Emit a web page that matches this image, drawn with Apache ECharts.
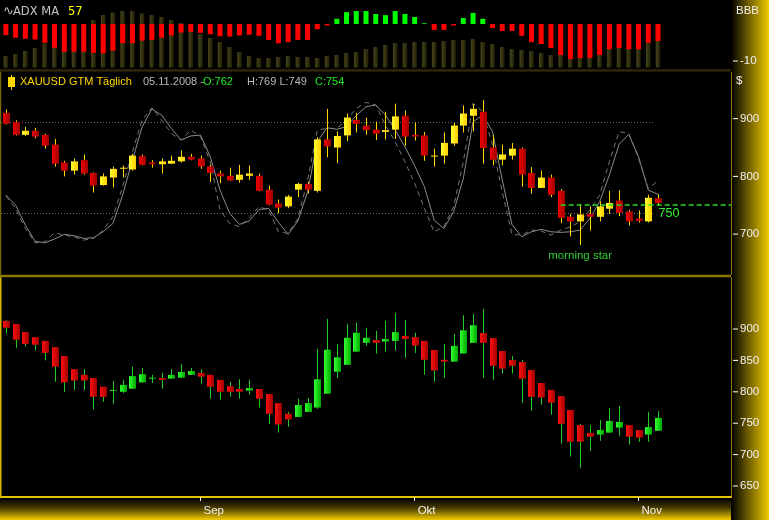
<!DOCTYPE html>
<html>
<head>
<meta charset="utf-8">
<script src="https://cdn.jsdelivr.net/npm/echarts@6/dist/echarts.min.js"></script>
<style>
  html, body { margin: 0; padding: 0; background: #000; }
  #chart { width: 769px; height: 520px; }
</style>
</head>
<body>
<div id="chart"></div>
<script>
// ---- calendar: trading days shown on the chart ----
const firstDay = '2008-08-04';
const lastDay = '2008-11-05';
const spareSlots = 7;               // empty room right of the last candle
const monthNames = ['Jan', 'Feb', 'Mär', 'Apr', 'Mai', 'Jun', 'Jul', 'Aug', 'Sep', 'Okt', 'Nov', 'Dez'];

// ---- XAUUSD GTM, daily (upper price panel) ----
const gtmOpen  = [910,894,872,879,872,855,824,810,828,806,785,798,814,812,835,824,821,822,826,834,831,817,805,801,794,801,801,777,753,748,777,787,775,864,850,871,898,888,881,877,881,905,872,871,835,836,857,888,905,912,850,829,836,848,806,780,798,775,730,722,735,730,744,758,739,727,722,762];
const gtmHigh  = [916,897,886,884,874,865,827,831,838,807,805,817,819,839,838,828,831,836,845,839,836,820,810,815,820,819,805,784,760,768,789,791,868,917,878,909,910,902,895,912,926,914,893,877,848,876,893,923,925,932,872,855,858,850,816,810,803,778,735,751,748,757,775,776,742,741,768,769];
const gtmLow   = [890,871,870,866,848,817,800,803,803,772,784,781,798,810,819,815,805,822,824,828,813,790,788,792,789,794,774,750,736,745,764,770,772,833,823,861,876,872,863,864,865,853,862,827,817,822,853,876,878,822,819,819,829,782,770,780,764,719,696,681,706,722,735,731,715,720,720,749];
const gtmClose = [891,872,879,869,853,822,810,826,805,784,800,813,815,836,820,821,826,827,834,829,817,806,800,793,803,805,775,751,746,765,787,777,864,852,870,902,891,880,874,880,904,869,869,836,836,858,888,909,917,849,829,838,848,803,780,798,768,728,722,734,730,748,754,737,722,723,763,754];

// ---- oscillator drawn over the upper price panel (0..100) ----
const oscMain = [32,25.4,12.2,1.5,0.5,3,6.1,5.2,3.4,3.9,7.8,13.3,32,55,77,88.8,84.8,76,68.3,71,71.6,57.3,35.3,19.9,12.7,14.9,22.5,23.2,14,6.1,14.9,34.2,67.2,76.4,75.4,77.1,84.4,90.3,91.4,84.8,74.9,63.9,51.4,37.5,15.5,10,21,43,80.4,84.8,73.8,42,12.5,4.5,7.8,9.4,7.8,7.4,7.8,8.9,16.6,27.6,45.2,65.5,72.1,57.3,35.3,32.5];
const oscFast = [31.4,23.2,10,0.5,1.2,7.2,5.6,4.5,2.3,3.4,8.9,17.7,37.5,60.6,81.5,89.6,81.5,72.7,68.3,74.9,70.5,54,22.1,13.3,11.1,17.1,24.3,22.1,7.8,6.7,16.6,41.9,74.9,76,76,81.5,89.2,93.2,91.4,78.2,67.2,54,39.7,23.2,7.8,11.1,24.3,54,92.5,87,65,34,6,5.6,8.9,8.3,5.6,8.9,11.1,14.4,22.1,32,54,73.8,72.7,56.2,36.4,41.3];
const oscLevels = [80, 20];

// ---- lower price panel ----
const spotOpen  = [913,908,895,887,881,871,857,836,827,822,808,801.5,800,805,815,821.5,822,821,822.5,827,830,827,819,809,804.5,802,804.5,796.5,782,765,760,768,775,797,832,843,864,878,882.5,880,881,889,887,881,866.5,851,848,861,878,893.5,885.5,865,850.5,847.5,834.5,814,803,793,771,747,734.5,732,735,743,747,739,732,738];
const spotHigh  = [914,908,895,887,881,871,857,836,836,822,808,817,819,840,838,827,830,836,844,838,836,827,819,816,820,819,804.5,796.5,782,768,789,790,868,916,876,908,910,902,897,913,925.5,914,894,881,866.5,876,892,922,924,932,885.5,865,857,850.5,834.5,814,803,793,771,749,747,755,774,777.5,747,739,768,769.5];
const spotLow   = [893,870,872,866,850,816,800,803,803,772,784,781,798,805,815,814,805,821,822.5,827,813,789,787.5,792,789,795.5,775,749,735,744.5,760,768,773,797,822,843,864,873.5,861,864,865.5,854,862,827,816,822.5,848,861,878,822.5,819,829,829,782.5,770,779.5,763.5,717.5,697,679,706,722,735,730,716,720.5,720.5,738];
const spotClose = [902,883,876,875,862,840,815,818,818,792,792,803,811,825,828,822.5,819,827,831.5,833,824,808,800,800,800,806,789,765,748,756,779,782,820,867,855,886,894,886,878,884,895,884,873.5,851,834,848,873,898,906,878,841.5,837,841.5,821,792,791,782.5,749,720.5,720.5,728.5,739,753.5,752,728.5,727,744,758.5];

// ---- ADX panel ----
const adxLine = [11.5,13.5,16.5,19.5,24,29,34,39,43.5,47.5,52.5,55,56.5,56.5,54,52.5,50.5,47.5,44.5,39,33.5,29.5,25.5,20.5,15.5,11.5,9.5,9.5,10.5,11.5,10.5,10.5,9.5,11.5,12.5,14.5,15.5,18.5,20.5,22.5,24.5,24.5,25.5,25.5,25.5,26.5,27.5,27.5,28.5,25.5,23.5,20.5,18.5,17.5,16.5,14.5,12.5,13,13,14,15,16.5,18.5,19.5,20,21,24.5,26.5];
const adxHist = [-3,-3.7,-4,-4.2,-5.1,-6.4,-7.5,-7.5,-7.5,-7.8,-7.9,-7.2,-5.2,-5.2,-4.5,-4.3,-3.7,-3.1,-2.3,-2.1,-2.4,-2.8,-3.3,-3.4,-3.1,-2.9,-3.2,-4.3,-5.2,-4.9,-4.3,-4.3,-1.4,-0.4,1.4,3.2,3.5,3.5,2.7,2.4,3.5,2.7,1.9,0.2,-1.6,-1.6,-0.4,1.6,3,1.4,-1.1,-1.9,-1.9,-3.2,-4.9,-5.4,-6.5,-8.4,-9.5,-9.2,-9.2,-8.4,-6.8,-6.5,-6.8,-6.8,-5.1,-4.6];

// ---- annotations ----
const levelPrice = 750;
const levelFrom = 57;               // candle index where the level line starts
const patternName = 'morning star';
const patternAt = [59, 662];        // candle index, price

// ---- axis tick values ----
const adxTicks = [-10];
const gtmTicks = [700, 800, 900];
const spotTicks = [650, 700, 750, 800, 850, 900];

// build trading-day calendar (weekdays)
function tradingDays(a, b) {
  const out = [];
  const d = new Date(a + 'T00:00:00Z');
  const end = new Date(b + 'T00:00:00Z');
  while (d <= end) {
    const wd = d.getUTCDay();
    if (wd !== 0 && wd !== 6) out.push(d.toISOString().slice(0, 10));
    d.setUTCDate(d.getUTCDate() + 1);
  }
  return out;
}
const dates = tradingDays(firstDay, lastDay);
const slots = dates.length + spareSlots;
const monthStarts = dates.map((d, i) => i).filter(i => i > 0 && dates[i].slice(5, 7) !== dates[i - 1].slice(5, 7));
const last = dates.length - 1;

const hGrad = (a, b) => new echarts.graphic.LinearGradient(0, 0, 1, 0, [{ offset: 0, color: a }, { offset: 1, color: b }]);
const vGrad = (stops) => new echarts.graphic.LinearGradient(0, 0, 0, 1, stops);

const fillYellow = hGrad('#ffff33', '#ffcc00');
const fillRedTop = hGrad('#ee0000', '#a00000');
const fillGreen = hGrad('#33ff33', '#00a800');
const fillRedLow = hGrad('#ff1010', '#a00000');

function candleRenderer(upFill, downFill, wickColor) {
  return function (params, api) {
    const i = api.value(0);
    const o = api.value(1), h = api.value(2), l = api.value(3), c = api.value(4);
    const pO = api.coord([i, o]), pC = api.coord([i, c]);
    const pH = api.coord([i, h]), pL = api.coord([i, l]);
    const bodyW = 7;
    const cx = Math.round(pO[0]);
    const top = Math.min(pO[1], pC[1]);
    const height = Math.max(1, Math.abs(pO[1] - pC[1]));
    return {
      type: 'group',
      children: [
        { type: 'line', shape: { x1: cx + 0.5, y1: pH[1], x2: cx + 0.5, y2: pL[1] }, style: { stroke: wickColor, lineWidth: 1 } },
        { type: 'rect', shape: { x: cx + 0.5 - bodyW / 2, y: top, width: bodyW, height: height }, style: { fill: c >= o ? upFill : downFill } }
      ]
    };
  };
}

// scale labels carry their own short tick mark in front of the number
function priceAxis(grid, min, max, ticks, lineShow) {
  return {
    type: 'value', gridIndex: grid, position: 'right', min: min, max: max,
    axisLine: { show: lineShow, onZero: false, lineStyle: { color: '#8a7700', width: 1 } },
    axisTick: { show: false },
    axisLabel: {
      customValues: ticks, margin: 2,
      formatter: v => '{t|}{v|' + v + '}',
      rich: {
        t: { width: 5, height: 1, backgroundColor: '#ffffff', verticalAlign: 'middle' },
        v: { color: '#f2f2f2', fontFamily: 'Liberation Sans', fontSize: 11.5, padding: [0, 0, 0, 2], verticalAlign: 'middle' }
      }
    },
    splitLine: { show: false }
  };
}

const xAxes = [0, 1, 2, 3, 4].map(g => ({
  type: 'value', gridIndex: g, min: -0.5, max: slots - 0.5,
  show: g === 4,
  axisLine: { show: true, onZero: false, lineStyle: { color: '#e8c200', width: 2 } },
  axisTick: { show: true, customValues: monthStarts, length: 4, lineStyle: { color: '#ffffff' } },
  axisLabel: {
    customValues: monthStarts,
    formatter: v => monthNames[parseInt(dates[Math.round(v)].slice(5, 7), 10) - 1],
    color: '#f2f2f2', fontFamily: 'Liberation Sans', fontSize: 11.5,
    align: 'left', padding: [0, 0, 0, 3], margin: 8
  },
  splitLine: { show: false }
}));

const panelGrid = (top, height) => ({ left: 1, right: 38, top: top, height: height });

const txt = (x, y, text, fill, size, family, extra) => Object.assign({
  type: 'text', x: x, y: y, z: 20,
  style: { text: text, fill: fill, font: size + 'px "' + (family || 'Liberation Sans') + '"', align: 'left', verticalAlign: 'middle' }
}, extra || {});

const option = {
  backgroundColor: '#000000',
  animation: false,
  grid: [
    panelGrid(0, 67.5),
    panelGrid(0, 67.5),
    panelGrid(72.5, 202),
    panelGrid(72.5, 202),
    panelGrid(277.5, 219.5)
  ],
  xAxis: xAxes,
  yAxis: [
    { type: 'value', gridIndex: 0, min: 0, max: 67.5, show: false },
    priceAxis(1, -11.757, 6.486, adxTicks, false),
    priceAxis(2, 630, 980, gtmTicks, true),
    { type: 'value', gridIndex: 3, min: -20.38, max: 112.86, show: false },
    priceAxis(4, 632.5, 982, spotTicks, true)
  ],
  series: [
    {
      name: 'ADX', type: 'bar', xAxisIndex: 0, yAxisIndex: 0, barWidth: 4.5,
      data: adxLine.map((v, i) => [i, v]),
      itemStyle: { color: hGrad('#47451a', '#1f1e08') }, z: 1
    },
    {
      name: 'ADX MA', type: 'bar', xAxisIndex: 1, yAxisIndex: 1, barWidth: 5,
      data: adxHist.map((v, i) => [i, v]),
      itemStyle: { color: p => (p.value[1] >= 0 ? '#00ff00' : '#ff0000') }, z: 3
    },
    {
      name: 'Oszillator', type: 'line', xAxisIndex: 3, yAxisIndex: 3,
      data: oscMain.map((v, i) => [i, v]), showSymbol: false, z: 2,
      lineStyle: { color: '#8c8c8c', width: 1 },
      markLine: {
        silent: true, symbol: 'none', label: { show: false },
        lineStyle: { color: '#6a6a6a', type: [1, 2], width: 1 },
        data: oscLevels.map(v => [{ coord: [-0.5, v] }, { coord: [last - 0.35, v] }])
      }
    },
    {
      name: 'Signal', type: 'line', xAxisIndex: 3, yAxisIndex: 3,
      data: oscFast.map((v, i) => [i, v]), showSymbol: false, z: 2,
      lineStyle: { color: '#767676', width: 1, type: [5, 4] }
    },
    {
      name: 'XAUUSD GTM', type: 'custom', xAxisIndex: 2, yAxisIndex: 2, z: 5,
      renderItem: candleRenderer(fillYellow, fillRedTop, '#ffd400'),
      dimensions: ['i', 'open', 'high', 'low', 'close'],
      encode: { x: 0, y: [1, 2, 3, 4] },
      data: dates.map((d, i) => [i, gtmOpen[i], gtmHigh[i], gtmLow[i], gtmClose[i]]),
      markLine: {
        silent: true, symbol: 'none', z: 10,
        label: { show: false },
        lineStyle: { color: '#22dd22', type: [5, 3], width: 1.5 },
        data: [[{ coord: [levelFrom, levelPrice] }, { coord: [slots - 0.5, levelPrice] }]]
      },
      markPoint: {
        silent: true, symbol: 'circle', symbolSize: 1, itemStyle: { color: 'rgba(0,0,0,0)' },
        data: [
          {
            coord: [last, levelPrice],
            label: { show: true, formatter: String(levelPrice), position: 'right', distance: 0, offset: [0, 8], color: '#33ee33', fontFamily: 'Liberation Sans', fontSize: 12.5 }
          },
          {
            coord: patternAt,
            label: { show: true, formatter: patternName, position: 'inside', color: '#33cc33', fontFamily: 'Liberation Sans', fontSize: 11.5 }
          }
        ]
      }
    },
    {
      name: 'XAUUSD', type: 'custom', xAxisIndex: 4, yAxisIndex: 4, z: 5,
      renderItem: candleRenderer(fillGreen, fillRedLow, '#22cc22'),
      dimensions: ['i', 'open', 'high', 'low', 'close'],
      encode: { x: 0, y: [1, 2, 3, 4] },
      data: dates.map((d, i) => [i, spotOpen[i], spotHigh[i], spotLow[i], spotClose[i]])
    }
  ],
  graphic: [
    // right scale strip
    { type: 'rect', z: -10, shape: { x: 731, y: 0, width: 38, height: 520 },
      style: { fill: hGrad('#000000', '#f2cc00') } },
    // time scale strip
    { type: 'rect', z: -9, shape: { x: 0, y: 498.5, width: 731, height: 21.5 },
      style: { fill: vGrad([{ offset: 0, color: '#000000' }, { offset: 0.45, color: '#4a3d00' }, { offset: 1, color: '#f2cc00' }]) } },
    // panel separators and borders
    { type: 'rect', z: 6, shape: { x: 0, y: 69, width: 731, height: 2.7 }, style: { fill: '#2a2208' } },
    { type: 'rect', z: 6, shape: { x: 0, y: 274.7, width: 731, height: 2.6 }, style: { fill: '#8a7700' } },
    { type: 'rect', z: 6, shape: { x: 0, y: 71.7, width: 1.2, height: 203 }, style: { fill: '#7a6a00' } },
    { type: 'rect', z: 6, shape: { x: 0, y: 277.3, width: 1.5, height: 221 }, style: { fill: '#d8b800' } },
    // ADX header
    txt(3, 12, '∿', '#c4c4c4', 13, 'DejaVu Sans'),
    txt(13, 12, 'ADX MA', '#c4c4c4', 11.5, 'DejaVu Sans'),
    txt(68, 12, '57', '#ffff00', 11.5, 'DejaVu Sans'),
    txt(736, 11, 'BBB', '#f2f2f2', 11.5),
    txt(736, 81, '$', '#f2f2f2', 11.5),
    // price header
    { type: 'rect', z: 20, shape: { x: 11, y: 75, width: 1, height: 15 }, style: { fill: '#ffd400' } },
    { type: 'rect', z: 21, shape: { x: 8, y: 77, width: 7, height: 10 }, style: { fill: '#ffd800' } },
    txt(20, 82, 'XAUUSD GTM Täglich', '#ffd800', 11),
    txt(143, 82, '05.11.2008 -', '#b8b8b8', 11),
    txt(203, 82, 'O:' + gtmOpen[last], '#22ee22', 11),
    txt(247, 82, 'H:' + gtmHigh[last] + ' L:' + gtmLow[last], '#b8b8b8', 11),
    txt(315, 82, 'C:' + gtmClose[last], '#22ee22', 11)
  ]
};

const chart = echarts.init(document.getElementById('chart'), null, { renderer: 'canvas' });
chart.setOption(option);
</script>
</body>
</html>
